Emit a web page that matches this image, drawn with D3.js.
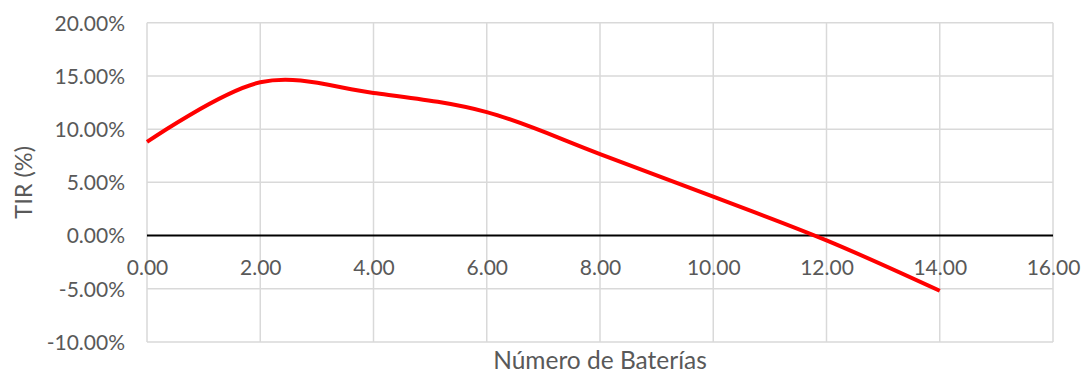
<!DOCTYPE html>
<html>
<head>
<meta charset="utf-8">
<script src="https://cdn.jsdelivr.net/npm/d3@7"></script>
<style>
  html, body { margin: 0; padding: 0; background: #fff; }
  svg { display: block; }
  text { font-family: Lato, "Open Sans", sans-serif; fill: #595959; }
</style>
</head>
<body>
<svg id="chart" width="1083" height="374"></svg>
<script>
// Número de baterías vs. TIR
const baterias = [0, 2, 4, 6, 8, 10, 12, 14];
const tir = [0.088, 0.1440, 0.1340, 0.1160, 0.0766, 0.0366, -0.0045, -0.0519];

const xTicks = [0, 2, 4, 6, 8, 10, 12, 14, 16];
const yTicks = [-0.10, -0.05, 0, 0.05, 0.10, 0.15, 0.20];

const xTitle = "Número de Baterías";
const yTitle = "TIR (%)";

const W = 1083, H = 374;
const margin = { left: 147, right: 30, top: 22.7, bottom: 32 };
const FONT = "Lato, 'Open Sans', sans-serif";

const svg = d3.select("#chart");

const x = d3.scaleLinear().domain([0, 16]).range([margin.left, W - margin.right]);
const y = d3.scaleLinear().domain([-0.10, 0.20]).range([H - margin.bottom, margin.top]);

// plain hyphen for negatives
const pct = d => (d * 100).toFixed(2) + "%";
const num = d => d.toFixed(2);

// gridlines
const grid = svg.append("g");
grid.selectAll("line.v").data(xTicks).join("line")
  .attr("x1", d => x(d)).attr("x2", d => x(d))
  .attr("y1", y(0.20)).attr("y2", y(-0.10))
  .attr("stroke", "#d9d9d9").attr("stroke-width", 1.5);
grid.selectAll("line.h").data(yTicks.filter(d => d !== 0)).join("line")
  .attr("x1", x(0)).attr("x2", x(16))
  .attr("y1", d => y(d)).attr("y2", d => y(d))
  .attr("stroke", "#d9d9d9").attr("stroke-width", 1.5);

// y axis labels
const yAxis = d3.axisLeft(y).tickValues(yTicks)
  .tickFormat(pct).tickSize(0).tickPadding(22);
const gy = svg.append("g").attr("transform", `translate(${x(0)},0)`).call(yAxis);
gy.select(".domain").remove();
gy.selectAll("text").attr("font-size", 21).attr("font-family", FONT)
  .attr("fill", "#595959").attr("dy", "0.35em");

// zero line (x axis)
svg.append("line")
  .attr("x1", x(0)).attr("x2", x(16))
  .attr("y1", y(0)).attr("y2", y(0))
  .attr("stroke", "#000").attr("stroke-width", 2);

// x axis labels below the zero line
const xAxis = d3.axisBottom(x).tickValues(xTicks)
  .tickFormat(num).tickSize(0).tickPadding(24);
const gx = svg.append("g").attr("transform", `translate(0,${y(0)})`).call(xAxis);
gx.select(".domain").remove();
gx.selectAll("text").attr("font-size", 21).attr("font-family", FONT)
  .attr("fill", "#595959").attr("dy", "0.35em").attr("y", 32);

// series
const line = d3.line()
  .x((d, i) => x(baterias[i]))
  .y(d => y(d))
  .curve(d3.curveCardinal.tension(0));
svg.append("path")
  .datum(tir)
  .attr("d", line)
  .attr("fill", "none")
  .attr("stroke", "#ff0000")
  .attr("stroke-width", 4)
  .attr("stroke-linejoin", "round");

// axis titles
svg.append("text")
  .attr("x", (x(0) + x(16)) / 2).attr("y", 369)
  .attr("text-anchor", "middle").attr("font-size", 24.5)
  .text(xTitle);
svg.append("text")
  .attr("transform", `translate(32,${(y(0.20) + y(-0.10)) / 2}) rotate(-90)`)
  .attr("text-anchor", "middle").attr("font-size", 23.5)
  .text(yTitle);
</script>
</body>
</html>
